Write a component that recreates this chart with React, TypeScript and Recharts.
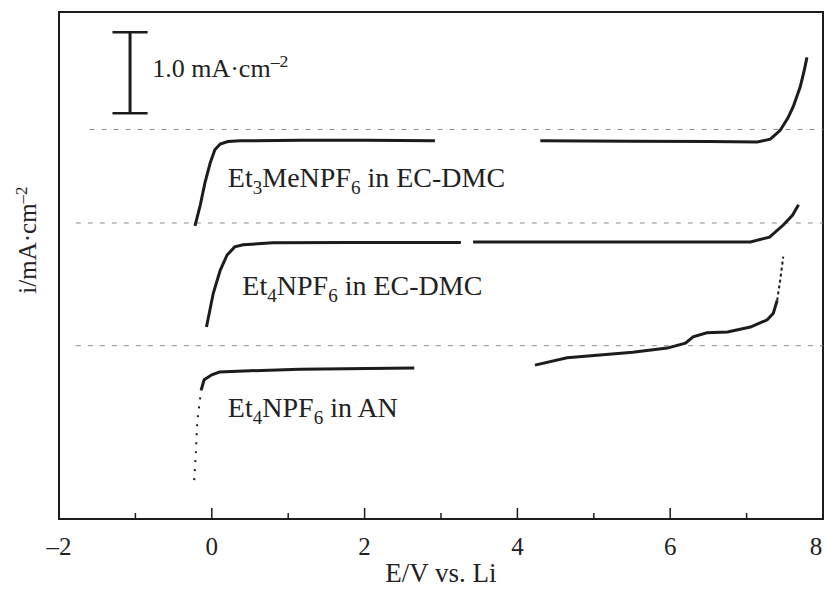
import React from "react"
import { LineChart, Line, XAxis, YAxis, ReferenceLine, ReferenceArea, ReferenceDot } from "recharts"

// tick marks along E axis (V vs. Li)
const xTicks = [-2, -1, 0, 1, 2, 3, 4, 5, 6, 7, 8]
const xLabelled = [-2, 0, 2, 4, 6, 8]

// Et3MeNPF6 in EC-DMC (offset current, mA/cm2)
const aE1 = [-0.22, -0.15, -0.09, -0.02, 0.04, 0.11, 0.21, 0.37, 1.16, 2.0, 2.92]
const aI1 = [3.62, 3.88, 4.15, 4.4, 4.56, 4.63, 4.66, 4.67, 4.675, 4.675, 4.67]
const aE2 = [4.3, 5.5, 6.5, 7.14, 7.31, 7.44, 7.54, 7.61, 7.7, 7.75, 7.79]
const aI2 = [4.67, 4.665, 4.66, 4.655, 4.69, 4.8, 4.95, 5.09, 5.33, 5.52, 5.7]

// Et4NPF6 in EC-DMC
const bE1 = [-0.07, 0.02, 0.11, 0.2, 0.3, 0.41, 0.8, 1.8, 3.26]
const bI1 = [2.37, 2.79, 3.07, 3.26, 3.36, 3.385, 3.41, 3.415, 3.415]
const bE2 = [3.42, 5.1, 7.05, 7.3, 7.48, 7.6, 7.68]
const bI2 = [3.42, 3.42, 3.42, 3.48, 3.63, 3.75, 3.88]

// Et4NPF6 in AN
const cEdot = [-0.23, -0.21, -0.19, -0.14]
const cIdot = [0.48, 0.8, 1.2, 1.59]
const cE1 = [-0.14, -0.1, 0.0, 0.1, 0.5, 1.15, 2.65]
const cI1 = [1.59, 1.72, 1.78, 1.815, 1.83, 1.85, 1.865]
const cE2 = [4.23, 4.65, 5.08, 5.51, 5.96, 6.2, 6.3, 6.48, 6.75, 7.05, 7.27, 7.35, 7.4]
const cI2 = [1.9, 1.99, 2.025, 2.06, 2.11, 2.17, 2.25, 2.3, 2.31, 2.37, 2.46, 2.54, 2.7]
const cEtip = [7.4, 7.44, 7.48]
const cItip = [2.7, 2.95, 3.24]

// dashed zero-current baselines
const baseLevels = [4.81, 3.655, 2.14]
const baseStarts = [-1.6, -1.78, -1.78]

const Y_MAX = 6.26
const INK = "#1c1c1c"
const SERIF = "'Liberation Serif', 'Times New Roman', serif"

const zip = (E: number[], I: number[]) => E.map((e, k) => ({ E: e, i: I[k] }))

type Part = { t: string; sub?: boolean; sup?: boolean }

function RichText({ x, y, parts, size, anchor = "start" }: { x: number; y: number; parts: Part[]; size: number; anchor?: string }) {
  const kids: React.ReactNode[] = []
  let shift = 0
  parts.forEach((p, k) => {
    const target = p.sub ? size * 0.25 : p.sup ? -size * 0.38 : 0
    kids.push(
      <tspan key={k} dy={target - shift} fontSize={p.sub || p.sup ? size * 0.68 : size}>
        {p.t}
      </tspan>,
    )
    shift = target
  })
  return (
    <text x={x} y={y} fontFamily={SERIF} fontSize={size} fill="#222" textAnchor={anchor}>
      {kids}
    </text>
  )
}

const textAt = (parts: Part[], size: number) => (props: any) => {
  const vb = props.viewBox || {}
  const cx = (vb.x ?? 0) + (vb.width ?? 0) / 2
  const cy = (vb.y ?? 0) + (vb.height ?? 0) / 2
  return <RichText x={cx} y={cy} parts={parts} size={size} />
}

const BottomTick = (props: any) => {
  const { x, y, payload } = props
  const v = payload.value
  const major = xLabelled.includes(v)
  const axisY = y - 18
  // last label sits a little inside so it is not clipped by the page edge
  const tx = v === 8 ? x - 7 : x
  return (
    <g>
      <line x1={x} x2={x} y1={axisY} y2={axisY - (major ? 11 : 6)} stroke={INK} strokeWidth={1.5} />
      {major && (
        <text x={tx} y={y} dy="0.71em" textAnchor="middle" fontFamily={SERIF} fontSize={25} fill="#222">
          {v < 0 ? `–${-v}` : v}
        </text>
      )}
    </g>
  )
}

const TopTick = (props: any) => {
  const { x, y, payload } = props
  const major = xLabelled.includes(payload.value)
  return <line x1={x} x2={x} y1={y} y2={y + (major ? 9 : 5)} stroke={INK} strokeWidth={1.5} />
}

const XTitle = (props: any) => {
  const vb = props.viewBox
  return (
    <text x={vb.x + vb.width / 2} y={vb.y + 63} textAnchor="middle" fontFamily={SERIF} fontSize={27} fill="#222">
      E/V vs. Li
    </text>
  )
}

const YTitle = (props: any) => {
  const vb = props.viewBox
  const cx = vb.x + 36
  const cy = vb.y + 228
  return (
    <g transform={`translate(${cx},${cy}) rotate(-90)`}>
      <RichText x={0} y={0} anchor="middle" size={25} parts={[{ t: "i/mA·cm" }, { t: "–2", sup: true }]} />
    </g>
  )
}

const lineProps = {
  type: "linear" as const,
  dataKey: "i",
  dot: false,
  stroke: INK,
  strokeWidth: 3,
  isAnimationActive: false,
}

export default function App() {
  return (
    <div style={{ position: "absolute", left: 0, top: 0, background: "#fff" }}>
      <LineChart width={826} height={590} margin={{ top: 0, right: 3, bottom: 0, left: 0 }}>
        <XAxis
          dataKey="E"
          type="number"
          domain={[-2, 8]}
          ticks={xTicks}
          interval={0}
          allowDataOverflow
          height={71}
          axisLine={false}
          tickLine={false}
          tickSize={0}
          tickMargin={18}
          tick={<BottomTick />}
          label={<XTitle />}
        />
        <XAxis
          xAxisId="t"
          orientation="top"
          type="number"
          domain={[-2, 8]}
          ticks={xTicks}
          interval={0}
          allowDataOverflow
          height={12}
          axisLine={false}
          tickLine={false}
          tickSize={0}
          tickMargin={0}
          tick={<TopTick />}
        />
        <YAxis
          type="number"
          domain={[0, Y_MAX]}
          allowDataOverflow
          width={59}
          tick={false}
          tickLine={false}
          axisLine={false}
          label={<YTitle />}
        />
        <ReferenceArea x1={-2} x2={8} y1={0} y2={Y_MAX} fill="none" stroke={INK} strokeWidth={2} />

        {baseLevels.map((lv, k) => (
          <ReferenceLine
            key={`base-${k}`}
            segment={[{ x: baseStarts[k], y: lv }, { x: 8, y: lv }]}
            stroke="#8a8a8a"
            strokeWidth={1}
            strokeDasharray="5 7"
          />
        ))}

        {/* 1.0 mA/cm2 scale bar */}
        <ReferenceLine segment={[{ x: -1.07, y: 5.01 }, { x: -1.07, y: 6.01 }]} stroke={INK} strokeWidth={3} />
        <ReferenceLine segment={[{ x: -1.3, y: 6.01 }, { x: -0.84, y: 6.01 }]} stroke={INK} strokeWidth={2.5} />
        <ReferenceLine segment={[{ x: -1.3, y: 5.01 }, { x: -0.84, y: 5.01 }]} stroke={INK} strokeWidth={2.5} />

        <Line {...lineProps} data={zip(aE1, aI1)} />
        <Line {...lineProps} data={zip(aE2, aI2)} />
        <Line {...lineProps} data={zip(bE1, bI1)} />
        <Line {...lineProps} data={zip(bE2, bI2)} />
        <Line {...lineProps} data={zip(cEdot, cIdot)} strokeWidth={2} strokeDasharray="2 7" />
        <Line {...lineProps} data={zip(cE1, cI1)} />
        <Line {...lineProps} data={zip(cE2, cI2)} />
        <Line {...lineProps} data={zip(cEtip, cItip)} strokeWidth={2} strokeDasharray="3 3" />

        <ReferenceDot x={-0.78} y={5.457} r={1} fill="none" stroke="none" label={textAt([{ t: "1.0 mA·cm" }, { t: "–2", sup: true }], 26)} />
        <ReferenceDot
          x={0.21}
          y={4.099}
          r={1}
          fill="none"
          stroke="none"
          label={textAt([{ t: "Et" }, { t: "3", sub: true }, { t: "MeNPF" }, { t: "6", sub: true }, { t: " in EC-DMC" }], 28)}
        />
        <ReferenceDot
          x={0.4}
          y={2.765}
          r={1}
          fill="none"
          stroke="none"
          label={textAt([{ t: "Et" }, { t: "4", sub: true }, { t: "NPF" }, { t: "6", sub: true }, { t: " in EC-DMC" }], 28)}
        />
        <ReferenceDot
          x={0.21}
          y={1.259}
          r={1}
          fill="none"
          stroke="none"
          label={textAt([{ t: "Et" }, { t: "4", sub: true }, { t: "NPF" }, { t: "6", sub: true }, { t: " in AN" }], 28)}
        />
      </LineChart>
    </div>
  )
}
